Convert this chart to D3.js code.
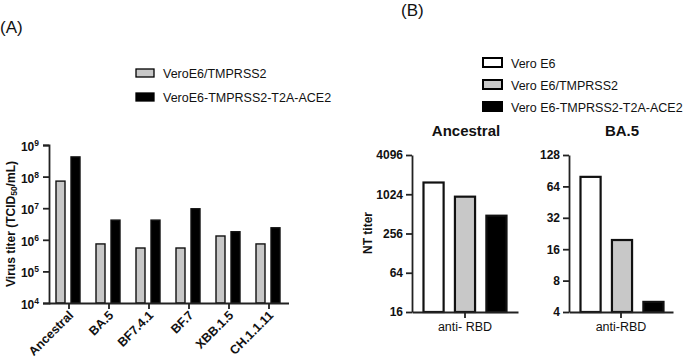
<!DOCTYPE html>
<html>
<head>
<meta charset="utf-8">
<script src="https://cdn.jsdelivr.net/npm/d3@7"></script>
<style>
  body { margin: 0; background: #fff; }
  svg text { font-family: "Liberation Sans", Arial, sans-serif; fill: #111; }
  .axis path, .axis line { stroke: #222; stroke-width: 1.8px; }
  .axis text { font-weight: bold; font-size: 12px; }
</style>
</head>
<body>
<div id="chart"></div>
<script>
// ---- data ----
// panel A
let variantsA = ["Ancestral", "BA.5", "BF7.4.1", "BF.7", "XBB.1.5", "CH.1.1.11"]
let seriesA = ["VeroE6/TMPRSS2", "VeroE6-TMPRSS2-T2A-ACE2"]
let tmprss2Titer = [7.2e7, 7.4e5, 5.5e5, 5.5e5, 1.32e6, 7.4e5]
let aceTiter = [4.2e8, 4.2e6, 4.2e6, 9.6e6, 1.8e6, 2.4e6]
let ticksA = [1e4, 1e5, 1e6, 1e7, 1e8, 1e9]

// panel B
let seriesB = ["Vero E6", "Vero E6/TMPRSS2", "Vero E6-TMPRSS2-T2A-ACE2"]
let ancestralNT = [1550, 940, 480]
let ba5NT = [79, 19.6, 5]
let ticksAncestral = [16, 64, 256, 1024, 4096]
let ticksBA5 = [4, 8, 16, 32, 64, 128]

let colorsA = ["#c8c8c8", "#000000"]
let colorsB = ["#ffffff", "#c8c8c8", "#000000"]

let svg = d3.select("#chart").append("svg")
    .attr("width", 685)
    .attr("height", 359)

// ---------- (A) ----------
svg.append("text").attr("x", 0).attr("y", 33)
    .style("font-size", "17px").text("(A)")

let legA = svg.append("g").attr("transform", "translate(136,69)")
seriesA.forEach((s, i) => {
    legA.append("rect").attr("x", 0).attr("y", i * 24)
        .attr("width", 18).attr("height", 8)
        .attr("fill", colorsA[i]).attr("stroke", "#000").attr("stroke-width", 1.3)
    legA.append("text").attr("x", 27).attr("y", i * 24 + 8.5)
        .style("font-size", "12.5px").text(s)
})

let xA = d3.scaleBand().domain(variantsA).range([49, 289])
let subA = d3.scaleBand().domain(seriesA).range([7, 31]).paddingInner(0.4)
let yA = d3.scaleLog().domain([1e4, 1e9]).range([303, 145])

let gA = svg.append("g")
let rowsA = variantsA.map((v, i) => ({v: v, vals: [tmprss2Titer[i], aceTiter[i]]}))
gA.selectAll(".grp").data(rowsA).enter().append("g")
    .attr("transform", d => `translate(${xA(d.v)},0)`)
    .selectAll("rect").data(d => d.vals.map((val, j) => ({s: seriesA[j], val: val, j: j})))
    .enter().append("rect")
    .attr("x", d => subA(d.s))
    .attr("width", subA.bandwidth())
    .attr("y", d => yA(d.val))
    .attr("height", d => yA(1e4) - yA(d.val))
    .attr("fill", d => colorsA[d.j])
    .attr("stroke", "#111").attr("stroke-width", 1.4)

let yAxisA = d3.axisLeft(yA).tickValues(ticksA).tickSizeOuter(0).tickSize(6)
    .tickFormat(d => "10")
let gyA = svg.append("g").attr("class", "axis").attr("transform", "translate(49,0)").call(yAxisA)
gyA.selectAll(".tick text").each(function (d) {
    let t = d3.select(this)
    t.text("10").style("font-size", "12px")
    t.append("tspan").attr("dy", "-5").style("font-size", "8.5px")
        .text(Math.round(Math.log10(d)))
})
gyA.selectAll(".tick text").attr("x", -10).attr("dy", "0.45em")

let gxA = svg.append("g").attr("class", "axis").attr("transform", "translate(0,303)")
    .call(d3.axisBottom(xA).tickSize(6).tickSizeOuter(0))
gxA.select(".domain").attr("d", "M49,0.5H289")
gxA.selectAll(".tick text")
    .style("font-size", "12.5px")
    .attr("text-anchor", "end")
    .attr("dy", "0.35em")
    .attr("transform", "translate(2,10) rotate(-45)")
    .attr("x", 0).attr("y", 0)

svg.append("text")
    .attr("transform", "translate(15,224) rotate(-90)")
    .attr("text-anchor", "middle")
    .style("font-weight", "bold").style("font-size", "12px")
    .html("Virus titer (TCID<tspan font-size='8.5' dy='2'>50</tspan><tspan dy='-2'>/mL)</tspan>")

// ---------- (B) ----------
svg.append("text").attr("x", 401).attr("y", 16)
    .style("font-size", "17px").text("(B)")

let legB = svg.append("g").attr("transform", "translate(483,58)")
seriesB.forEach((s, i) => {
    legB.append("rect").attr("x", 0).attr("y", i * 22)
        .attr("width", 19).attr("height", 9)
        .attr("fill", colorsB[i]).attr("stroke", "#000").attr("stroke-width", 2)
    legB.append("text").attr("x", 28).attr("y", i * 22 + 9.5)
        .style("font-size", "12.5px").text(s)
})

function drawSub(title, xLabel, values, ticks, domain, x0, x1) {
    let x = d3.scaleBand().domain([xLabel]).range([x0, x1])
    let sub = d3.scaleBand().domain(seriesB).range([11.5, 94.5]).paddingInner(0.36)
    let y = d3.scaleLog().base(2).domain(domain).range([312, 155])

    svg.selectAll(null).data(values.map((v, j) => ({v: v, j: j}))).enter().append("rect")
        .attr("x", d => x(xLabel) + sub(seriesB[d.j]))
        .attr("width", sub.bandwidth())
        .attr("y", d => y(d.v))
        .attr("height", d => y(domain[0]) - y(d.v))
        .attr("fill", d => colorsB[d.j])
        .attr("stroke", "#111").attr("stroke-width", 2.2)

    let gy = svg.append("g").attr("class", "axis").attr("transform", `translate(${x0},0)`)
        .call(d3.axisLeft(y).tickValues(ticks).tickFormat(d3.format("d")).tickSize(6).tickSizeOuter(0))
    gy.selectAll(".tick text").style("font-size", "12px")

    let gx = svg.append("g").attr("class", "axis").attr("transform", "translate(0,312)")
        .call(d3.axisBottom(x).tickSize(6).tickSizeOuter(0))
    gx.selectAll(".tick text").style("font-weight", "normal").style("font-size", "12.5px").attr("y", 10)

    svg.append("text").attr("x", (x0 + x1) / 2 + 1).attr("y", 136)
        .attr("text-anchor", "middle")
        .style("font-weight", "bold").style("font-size", "15px").text(title)
}

drawSub("Ancestral", "anti- RBD", ancestralNT, ticksAncestral, [16, 4096], 412, 518)
drawSub("BA.5", "anti-RBD", ba5NT, ticksBA5, [4, 128], 569, 673)

svg.append("text")
    .attr("transform", "translate(372,233) rotate(-90)")
    .attr("text-anchor", "middle")
    .style("font-weight", "bold").style("font-size", "12px")
    .text("NT titer")
</script>
</body>
</html>
